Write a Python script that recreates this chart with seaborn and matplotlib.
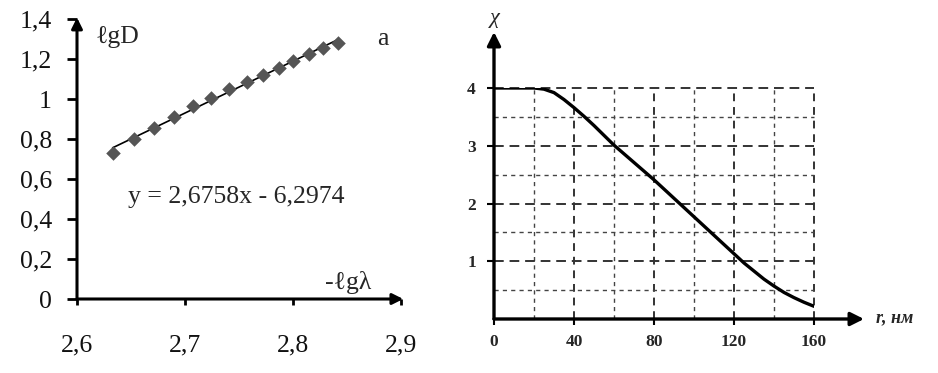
import matplotlib
matplotlib.use("Agg")
import matplotlib.pyplot as plt
import seaborn as sns
import numpy as np

# ---- data: left panel (lgD vs -lg lambda) ----
neg_lg_lambda = [2.633, 2.653, 2.671, 2.690, 2.707, 2.724, 2.741, 2.757,
                 2.772, 2.787, 2.800, 2.815, 2.828, 2.842]
lg_D = [0.73, 0.80, 0.855, 0.91, 0.965, 1.005, 1.05, 1.085,
        1.12, 1.155, 1.19, 1.225, 1.255, 1.28]
left_xticks = [2.6, 2.7, 2.8, 2.9]
left_xticklabels = ["2,6", "2,7", "2,8", "2,9"]
left_yticks = [0, 0.2, 0.4, 0.6, 0.8, 1.0, 1.2, 1.4]
left_yticklabels = ["0", "0,2", "0,4", "0,6", "0,8", "1", "1,2", "1,4"]
equation = "y = 2,6758x - 6,2974"

# ---- data: right panel (chi vs r) ----
r_nm = [0, 10, 20, 25, 30, 35, 40, 45, 50, 55, 60, 65, 70, 75, 80, 85, 90,
        95, 100, 105, 110, 115, 120, 125, 130, 135, 140, 145, 150, 155, 160]
chi = [4.0, 4.0, 4.0, 3.98, 3.92, 3.80, 3.66, 3.51, 3.35, 3.18, 3.01, 2.86,
       2.71, 2.56, 2.41, 2.25, 2.09, 1.93, 1.77, 1.61, 1.45, 1.29, 1.13,
       0.97, 0.83, 0.69, 0.57, 0.46, 0.37, 0.29, 0.22]
right_xticks = [0, 40, 80, 120, 160]
right_xminor = [20, 60, 100, 140]
right_yticks = [1, 2, 3, 4]
right_yminor = [0.5, 1.5, 2.5, 3.5]

sns.set_theme(style="white")
plt.rcParams["font.family"] = ["Liberation Serif", "DejaVu Serif"]

W, H = 938, 373
fig = plt.figure(figsize=(W / 100, H / 100), dpi=100)

# ================= left panel =================
FS = 18.5
ax1 = fig.add_axes([77 / W, 74 / H, 324 / W, 280 / H])
sns.regplot(x=neg_lg_lambda, y=lg_D, scatter=False, ci=None, ax=ax1,
            line_kws=dict(color="black", lw=1.2))
sns.scatterplot(x=neg_lg_lambda, y=lg_D, marker="D", s=55, color="#555555",
                edgecolor="#555555", linewidth=0, ax=ax1, zorder=3)
ax1.set_xlim(2.6, 2.9)
ax1.set_ylim(0, 1.4)
for s in ax1.spines.values():
    s.set_visible(False)
arrow = dict(arrowstyle="-|>", lw=2.2, color="black", mutation_scale=16,
             shrinkA=0, shrinkB=0)
ax1.annotate("", xy=(1.007, 0), xytext=(0, 0), xycoords="axes fraction",
             arrowprops=arrow, annotation_clip=False)
ax1.annotate("", xy=(0, 1.005), xytext=(0, 0), xycoords="axes fraction",
             arrowprops=arrow, annotation_clip=False)
ax1.set_xticks(left_xticks)
ax1.set_xticklabels(left_xticklabels, fontsize=FS)
ax1.set_yticks(left_yticks)
ax1.set_yticklabels(left_yticklabels, fontsize=FS)
ax1.tick_params(axis="x", bottom=True, direction="out", length=4.5, width=2,
                color="black", pad=21, labelcolor="#111111")
ax1.tick_params(axis="y", left=True, direction="out", length=7, width=2,
                color="black", pad=11, labelcolor="#111111")
ax1.set_xlabel("")
ax1.set_ylabel("")
ax1.text(2.6167, 1.31, "ℓgD", fontsize=FS, ha="left", va="center")
ax1.text(2.883, 1.30, "a", fontsize=FS, ha="center", va="center")
ax1.text(2.6472, 0.51, equation, fontsize=FS, ha="left", va="center")
ax1.text(2.8296, 0.085, "-ℓgλ", fontsize=FS, ha="left", va="center")

# ================= right panel =================
ax2 = fig.add_axes([494 / W, 54 / H, 320 / W, 231 / H])
ax2.set_xlim(0, 160)
ax2.set_ylim(0, 4)
ax2.set_xticks(right_xticks)
ax2.set_xticks(right_xminor, minor=True)
ax2.set_yticks(right_yticks)
ax2.set_yticks(right_yminor, minor=True)
ax2.grid(True, which="major", axis="y", color="#333333", lw=1.4,
         linestyle=(0, (5, 3)))
ax2.grid(True, which="minor", axis="y", color="#444444", lw=1.0,
         linestyle=(0, (3, 3)))
ax2.grid(True, which="major", axis="x", color="#333333", lw=1.4,
         linestyle=(0, (4, 3)))
ax2.grid(True, which="minor", axis="x", color="#444444", lw=1.0,
         linestyle=(0, (3, 3)))
for t in (ax2.xaxis.get_major_ticks() + ax2.xaxis.get_minor_ticks()
          + ax2.yaxis.get_major_ticks() + ax2.yaxis.get_minor_ticks()):
    t.gridline.set_clip_on(False)
sns.lineplot(x=r_nm, y=chi, color="black", lw=2.4, ax=ax2, zorder=4)
for s in ax2.spines.values():
    s.set_visible(False)
arrow2 = dict(arrowstyle="-|>", lw=2.4, color="black", mutation_scale=20,
              shrinkA=0, shrinkB=0)
ax2.annotate("", xy=(185, 0), xytext=(0, 0), xycoords="data",
             arrowprops=arrow2, annotation_clip=False)
ax2.annotate("", xy=(0, 4.97), xytext=(0, 0), xycoords="data",
             arrowprops=arrow2, annotation_clip=False)
ax2.set_xticklabels([str(v) for v in right_xticks], fontsize=12.5,
                    fontweight="bold")
ax2.set_yticklabels([str(v) for v in right_yticks], fontsize=12.5,
                    fontweight="bold")
ax2.tick_params(axis="x", which="major", bottom=True, direction="out",
                length=4, width=1.5, color="black", pad=7)
ax2.tick_params(axis="y", which="major", left=True, direction="out",
                length=5, width=1.5, color="black", pad=8)
ax2.tick_params(which="minor", bottom=False, left=False)
ax2.set_xlabel("")
ax2.set_ylabel("")
ax2.text(0.5, 5.2, "χ", fontsize=16, fontstyle="italic", ha="center",
         va="center")
ax2.text(191, 0.03, "r, нм", fontsize=13, fontweight="bold",
         fontstyle="italic", ha="left", va="center")

fig.savefig("out.png", dpi=100)
